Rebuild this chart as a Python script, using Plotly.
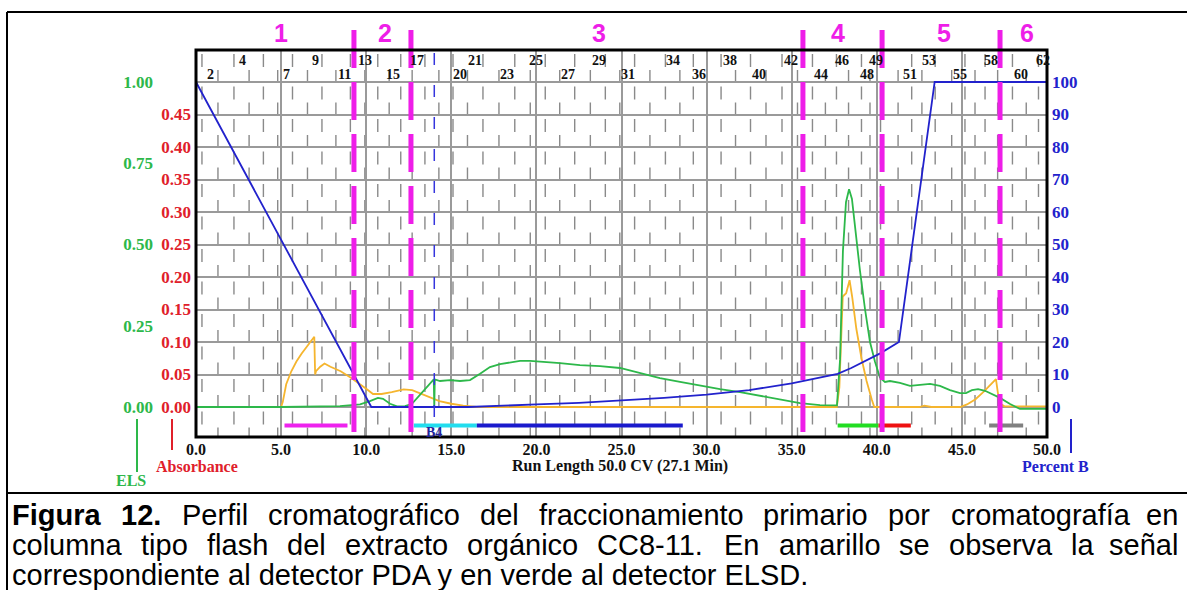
import plotly.graph_objects as go

# ---------------- data ----------------
# PDA absorbance (yellow)
cv_pda = [0.0, 5.0, 5.1, 5.3, 5.6, 5.9, 6.2, 6.5, 6.8, 6.95, 7.0, 7.05, 7.3, 7.55, 7.9, 8.5,
          9.1, 9.6, 10.0, 10.4, 10.9, 11.5, 12.2, 12.7, 13.3, 13.8, 14.3, 15.0, 15.7, 16.5,
          37.65, 37.8, 38.0, 38.2, 38.4, 38.55, 38.8, 39.1, 39.4, 39.7, 39.85, 42.5, 42.8,
          43.2, 44.9, 45.3, 45.8, 46.3, 46.8, 47.0, 47.2, 47.5, 50.0]
abs_pda = [0.0, 0.0, 0.008, 0.035, 0.055, 0.07, 0.082, 0.093, 0.103, 0.108, 0.05, 0.055, 0.062,
           0.067, 0.062, 0.055, 0.045, 0.036, 0.028, 0.02, 0.02, 0.023, 0.027, 0.026, 0.02,
           0.014, 0.009, 0.005, 0.002, 0.0, 0.0, 0.03, 0.17, 0.175, 0.195, 0.17, 0.12, 0.075,
           0.04, 0.012, 0.0, 0.0, 0.002, 0.0, 0.0, 0.004, 0.012, 0.024, 0.038, 0.043, 0.006,
           0.001, 0.001]

# ELSD signal (green)
cv_els = [0.0, 5.0, 8.46, 9.64, 10.22, 10.69, 10.99, 11.40, 11.81, 12.28, 12.69, 13.16, 13.57,
          13.87, 13.97, 14.0, 14.03, 14.34, 14.92, 15.51, 16.10, 16.69, 17.27, 17.86, 18.45,
          19.04, 19.62, 20.21, 21.39, 22.56, 23.74, 24.91, 26.09, 27.26, 28.44, 29.61, 30.79,
          31.96, 33.14, 34.31, 35.49, 36.66, 37.66, 37.84, 38.01, 38.19, 38.37, 38.54, 38.72,
          39.01, 39.31, 39.60, 39.89, 40.19, 40.48, 40.77, 41.36, 41.95, 42.54, 43.13, 43.71,
          44.30, 44.89, 45.24, 45.59, 45.95, 46.36, 46.77, 47.24, 47.83, 48.41, 50.0]
els = [0.0, 0.0, 0.003, 0.008, 0.018, 0.028, 0.025, 0.01, 0.002, 0.003, 0.01, 0.037, 0.06,
       0.08, 0.085, 0.0, 0.085, 0.08, 0.083, 0.08, 0.083, 0.102, 0.123, 0.132, 0.138, 0.142,
       0.142, 0.14, 0.135, 0.129, 0.126, 0.12, 0.105, 0.089, 0.077, 0.065, 0.055, 0.046,
       0.034, 0.022, 0.012, 0.006, 0.005, 0.145, 0.48, 0.63, 0.67, 0.64, 0.55, 0.42, 0.3,
       0.2, 0.14, 0.09, 0.077, 0.08, 0.074, 0.065, 0.068, 0.071, 0.065, 0.052, 0.043, 0.043,
       0.052, 0.055, 0.05, 0.04, 0.028, 0.009, -0.006, -0.006]

# Gradient, percent B (blue)
cv_b = [0.0, 10.3, 16.0, 18.0, 20.0, 22.5, 25.0, 27.5, 30.0, 32.5, 35.0, 36.5, 37.7, 38.5,
        39.3, 40.2, 41.3, 43.4, 50.0]
pct_b = [100, 0, 0, 0.3, 0.8, 1.3, 2.0, 2.8, 3.8, 5.2, 7.3, 8.8, 10.2, 12.0, 14.0, 16.5, 20.0,
         100, 100]

# fraction numbers along the top
frac_labels = ['2', '4', '7', '9', '11', '13', '15', '17', '20', '21', '23', '25', '27', '29',
               '31', '34', '36', '38', '40', '42', '44', '46', '48', '49', '51', '53', '55',
               '58', '60', '62']
frac_label_cv = [0.85, 2.75, 5.3, 7.05, 8.7, 9.9, 11.6, 13.0, 15.5, 16.4, 18.3, 20.0, 21.85,
                 23.65, 25.4, 28.05, 29.55, 31.35, 33.1, 34.95, 36.7, 37.95, 39.4, 39.95,
                 41.95, 43.05, 44.9, 46.7, 48.45, 49.75]
frac_label_row = ['lo', 'hi', 'lo', 'hi', 'lo', 'hi', 'lo', 'hi', 'lo', 'hi', 'lo', 'hi', 'lo',
                  'hi', 'lo', 'hi', 'lo', 'hi', 'lo', 'hi', 'lo', 'hi', 'lo', 'hi', 'lo', 'hi',
                  'lo', 'hi', 'lo', 'hi']
frac_bounds = [0.35, 1.29, 2.23, 3.12, 3.96, 4.80, 5.67, 6.55, 7.40, 8.22, 9.07, 9.92, 10.68,
               11.35, 12.03, 12.70, 13.45, 14.27, 15.10, 15.95, 16.86, 17.80, 18.73, 19.64,
               20.52, 21.37, 22.25, 23.17, 24.05, 24.90, 25.77, 26.67, 27.58, 28.43, 29.22,
               30.02, 30.85, 31.70, 32.58, 33.49, 34.43, 35.34, 36.22, 36.98, 37.63, 38.34,
               39.10, 39.60, 40.22, 41.25, 42.05, 42.65, 43.43, 44.40, 45.18, 45.77, 46.36,
               47.10, 47.97, 48.78, 49.50]

# pooled regions
region_labels = ['1', '2', '3', '4', '5', '6']
region_label_cv = [5.0, 11.1, 23.7, 37.7, 43.95, 48.8]
region_div_cv = [9.28, 12.63, 35.66, 40.31, 47.24]

# collected fraction bars
bar_start = [5.2, 12.8, 16.5, 37.7, 40.1, 46.6]
bar_end = [8.9, 16.5, 28.6, 40.1, 42.0, 48.6]
bar_colors = ['#ee22ee', '#22ddee', '#1a1acc', '#22dd22', '#ee1111', '#808080']

abs_ticks = [0.0, 0.05, 0.10, 0.15, 0.20, 0.25, 0.30, 0.35, 0.40, 0.45]
els_ticks = [0.0, 0.25, 0.50, 0.75, 1.00]
b_ticks = [0, 10, 20, 30, 40, 50, 60, 70, 80, 90, 100]
x_ticks = [0, 5, 10, 15, 20, 25, 30, 35, 40, 45, 50]

caption1_words = ['Figura', '12.', 'Perfil', 'cromatográfico', 'del', 'fraccionamiento',
                  'primario', 'por', 'cromatografía', 'en']
caption2_words = ['columna', 'tipo', 'flash', 'del', 'extracto', 'orgánico', 'CC8-11.', 'En',
                  'amarillo', 'se', 'observa', 'la', 'señal']
caption3 = 'correspondiente al detector PDA y en verde al detector ELSD.'

# ---------------- layout geometry ----------------
W, H = 1187, 590
ML, MR, MT, MB = 60, 140, 50, 153
PW = W - ML - MR
PH = H - MT - MB


def fx(px):
    return (px - ML) / PW


def fy(py):
    return (H - MB - py) / PH


ABS_RANGE = [-0.04615, 0.54923]
ELS_RANGE = [v * 2 for v in ABS_RANGE]
B_RANGE = [v * 200 for v in ABS_RANGE]
BAR_Y = -0.0285

SERIF = 'Liberation Serif'
SANS = 'Liberation Sans'
GREEN = '#2db84a'
YELLOW = '#f5b52e'
BLUE = '#2222cc'
RED = '#e0202a'
MAGENTA = '#ee1ee8'

fig = go.Figure()

fig.add_trace(go.Scatter(x=cv_els, y=els, yaxis='y2', mode='lines',
                         line=dict(color=GREEN, width=1.8), hoverinfo='skip'))
fig.add_trace(go.Scatter(x=cv_b, y=pct_b, yaxis='y3', mode='lines',
                         line=dict(color=BLUE, width=1.8), hoverinfo='skip'))
fig.add_trace(go.Scatter(x=cv_pda, y=abs_pda, yaxis='y', mode='lines',
                         line=dict(color=YELLOW, width=1.8), hoverinfo='skip'))

for s, e, c in zip(bar_start, bar_end, bar_colors):
    fig.add_trace(go.Scatter(x=[s, e], y=[BAR_Y, BAR_Y], yaxis='y', mode='lines',
                             line=dict(color=c, width=4), hoverinfo='skip'))

shapes = []
# fraction tick dashes
for i, b in enumerate(frac_bounds):
    dash = '0px,4px,13px,15.5px' if i % 2 == 0 else '0px,20px,12px,0.5px'
    shapes.append(dict(type='line', xref='x', yref='y', x0=b, x1=b,
                       y0=ABS_RANGE[1], y1=ABS_RANGE[0], layer='below',
                       line=dict(color='#8a8a8a', width=1.4, dash=dash)))
# start marker (blue dashed)
shapes.append(dict(type='line', xref='x', yref='paper', x0=14.0, x1=14.0,
                   y0=fy(53), y1=fy(425), layer='above',
                   line=dict(color='#3535dd', width=1.5, dash='12px,20px')))
# region dividers (magenta)
for d in region_div_cv:
    shapes.append(dict(type='line', xref='x', yref='paper', x0=d, x1=d,
                       y0=fy(30), y1=fy(437), layer='above',
                       line=dict(color=MAGENTA, width=5, dash='38px,14px')))
# plot frame
shapes.append(dict(type='rect', xref='x domain', yref='y domain', x0=0, x1=1, y0=0, y1=1,
                   layer='above', line=dict(color='black', width=3)))
# outer frame lines
shapes.append(dict(type='line', xref='paper', yref='paper', x0=fx(7), x1=fx(1187),
                   y0=fy(12), y1=fy(12), line=dict(color='black', width=2)))
shapes.append(dict(type='line', xref='paper', yref='paper', x0=fx(7), x1=fx(7),
                   y0=fy(12), y1=fy(590), line=dict(color='black', width=2)))
shapes.append(dict(type='line', xref='paper', yref='paper', x0=fx(7), x1=fx(1187),
                   y0=fy(493), y1=fy(493), line=dict(color='black', width=2)))
# axis title markers
shapes.append(dict(type='line', xref='paper', yref='paper', x0=fx(137), x1=fx(137),
                   y0=fy(419), y1=fy(472), line=dict(color=GREEN, width=2)))
shapes.append(dict(type='line', xref='paper', yref='paper', x0=fx(172), x1=fx(172),
                   y0=fy(419), y1=fy(450), line=dict(color=RED, width=2)))
shapes.append(dict(type='line', xref='paper', yref='paper', x0=fx(1071), x1=fx(1071),
                   y0=fy(419), y1=fy(453), line=dict(color=BLUE, width=2)))

ann = []
for lab, cv, row in zip(frac_labels, frac_label_cv, frac_label_row):
    ann.append(dict(text=lab, xref='x', yref='paper', x=cv, y=fy(61 if row == 'hi' else 74),
                    showarrow=False, xanchor='center', yanchor='middle',
                    font=dict(family=SERIF, size=14, color='#111', weight='bold')))
for lab, cv in zip(region_labels, region_label_cv):
    ann.append(dict(text=lab, xref='x', yref='paper', x=cv, y=fy(33), showarrow=False,
                    xanchor='center', yanchor='middle',
                    font=dict(family=SANS, size=25, color=MAGENTA, weight='bold')))
ann.append(dict(text='B4', xref='x', yref='paper', x=14.0, y=fy(432), showarrow=False,
                xanchor='center', yanchor='middle',
                font=dict(family=SERIF, size=14, color='#22229a', weight='bold')))
ann.append(dict(text='Run Length 50.0 CV (27.1 Min)', xref='paper', yref='paper',
                x=fx(620), y=fy(466), showarrow=False, xanchor='center', yanchor='middle',
                font=dict(family=SERIF, size=16, color='#111', weight='bold')))
ann.append(dict(text='Absorbance', xref='paper', yref='paper', x=fx(197), y=fy(466),
                showarrow=False, xanchor='center', yanchor='middle',
                font=dict(family=SERIF, size=16, color=RED, weight='bold')))
ann.append(dict(text='ELS', xref='paper', yref='paper', x=fx(131), y=fy(480),
                showarrow=False, xanchor='center', yanchor='middle',
                font=dict(family=SERIF, size=16, color=GREEN, weight='bold')))
ann.append(dict(text='Percent B', xref='paper', yref='paper', x=fx(1055), y=fy(466),
                showarrow=False, xanchor='center', yanchor='middle',
                font=dict(family=SERIF, size=16, color=BLUE, weight='bold')))

# caption (justified lines placed word by word)
CAP_SIZE = 29
cap1_x = [10, 119, 180, 266, 478, 537, 761, 886, 949, 1180]
cap2_x = [10, 139, 205, 285, 343, 465, 595, 722, 777, 897, 947, 1069, 1180]
for i, (w, x) in enumerate(zip(caption1_words, cap1_x)):
    last = i == len(caption1_words) - 1
    ann.append(dict(text=w, xref='paper', yref='paper', x=fx(x), y=fy(515), showarrow=False,
                    xanchor='right' if last else 'left', yanchor='middle',
                    font=dict(family=SANS, size=CAP_SIZE, color='black',
                              weight='bold' if i < 2 else 'normal')))
for i, (w, x) in enumerate(zip(caption2_words, cap2_x)):
    last = i == len(caption2_words) - 1
    ann.append(dict(text=w, xref='paper', yref='paper', x=fx(x), y=fy(545), showarrow=False,
                    xanchor='right' if last else 'left', yanchor='middle',
                    font=dict(family=SANS, size=CAP_SIZE, color='black')))
ann.append(dict(text=caption3, xref='paper', yref='paper', x=fx(10), y=fy(575),
                showarrow=False, xanchor='left', yanchor='middle',
                font=dict(family=SANS, size=CAP_SIZE, color='black')))

tickfont = dict(family=SERIF, size=16, weight='bold')
fig.update_layout(
    width=W, height=H, margin=dict(l=ML, r=MR, t=MT, b=MB),
    paper_bgcolor='white', plot_bgcolor='white', showlegend=False,
    xaxis=dict(domain=[fx(196), 1.0], range=[0, 50], tickvals=x_ticks,
               ticktext=[f'{v:.1f}' for v in x_ticks], showgrid=True,
               gridcolor='#9a9a9a', gridwidth=2, zeroline=False, showline=False,
               ticks='', tickfont=dict(tickfont, color='#111'), ticklabelstandoff=1),
    yaxis=dict(range=ABS_RANGE, tickvals=abs_ticks,
               ticktext=[f'{v:.2f}' for v in abs_ticks], showgrid=False, zeroline=False,
               showline=False, ticks='', tickfont=dict(tickfont, size=17, color=RED),
               ticklabelstandoff=4),
    yaxis2=dict(range=ELS_RANGE, overlaying='y', anchor='free', position=fx(155),
                side='left', tickvals=els_ticks, ticktext=[f'{v:.2f}' for v in els_ticks],
                showgrid=False, zeroline=False, showline=False, ticks='',
                tickfont=dict(tickfont, size=17, color=GREEN), ticklabelstandoff=2),
    yaxis3=dict(range=B_RANGE, overlaying='y', anchor='x', side='right', tickvals=b_ticks,
                ticktext=[str(v) for v in b_ticks], showgrid=True, gridcolor='#9a9a9a',
                gridwidth=2, zeroline=False, showline=False, ticks='',
                tickfont=dict(tickfont, size=17, color=BLUE), ticklabelstandoff=4),
    shapes=shapes, annotations=ann,
)

fig.write_html('out.html', config={'displayModeBar': False},
               post_script="document.body.style.margin='0px';"
                           "document.body.style.overflow='hidden';")
